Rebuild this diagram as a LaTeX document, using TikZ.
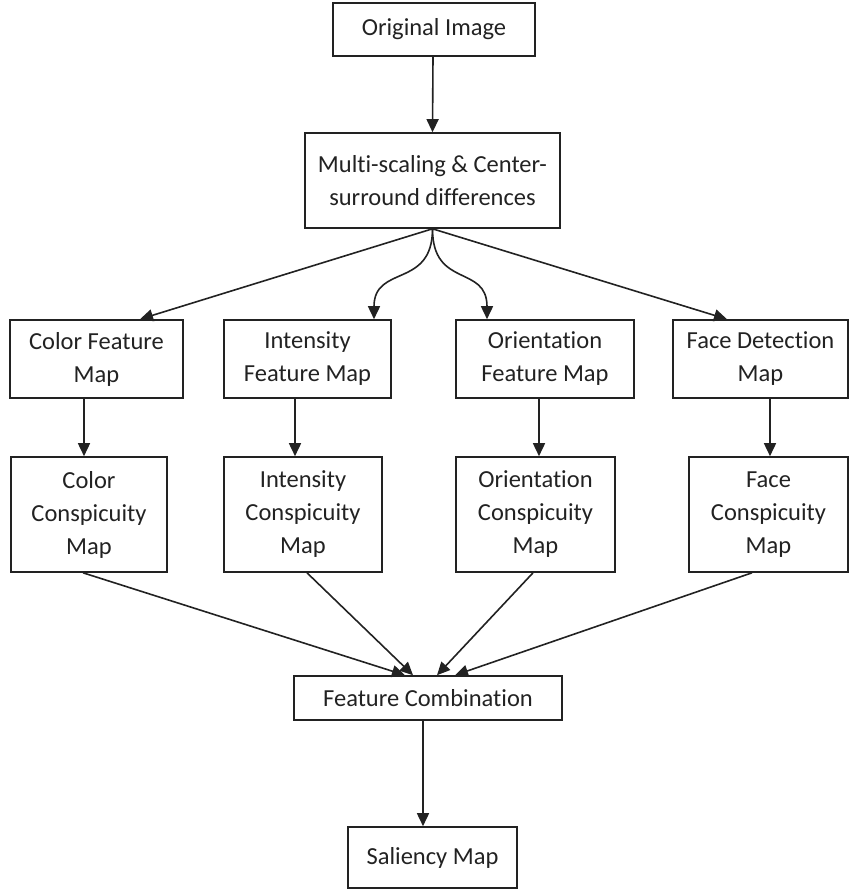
\documentclass[tikz,border=0pt]{standalone}
\usepackage{fontspec}
\setmainfont{Carlito}[RawFeature={-liga;-clig;-dlig;-calt}]
\usetikzlibrary{arrows.meta}
\definecolor{ink}{HTML}{222222}
\tikzset{
  box/.style={draw=ink, line width=1.6pt, text=ink, inner sep=0pt, align=center,
    font=\fontsize{24.5}{33}\selectfont},
  arr/.style={draw=ink, line width=1.6pt, -{Triangle[length=13pt,width=12pt]}},
}
\begin{document}
\begin{tikzpicture}[x=1pt,y=-1pt]
\useasboundingbox (0,0) rectangle (860,891);
\node[box, minimum width=202pt, minimum height=53pt] (orig) at (434,29.5) {Original Image};
\node[box, minimum width=255pt, minimum height=95pt] (ms) at (432.5,180.5) {Multi-scaling \& Center-\\surround differences};
\node[box, minimum width=173pt, minimum height=78pt] (cfm) at (96.5,359) {Color Feature\\Map};
\node[box, minimum width=167pt, minimum height=78pt] (ifm) at (307.5,359) {Intensity\\Feature Map};
\node[box, minimum width=178pt, minimum height=78pt] (ofm) at (545,359) {Orientation\\Feature Map};
\node[box, minimum width=175pt, minimum height=78pt] (ffm) at (760.5,359) {Face Detection\\Map};
\node[box, minimum width=156pt, minimum height=115pt] (ccm) at (89,514.5) {Color\\Conspicuity\\Map};
\node[box, minimum width=158pt, minimum height=115pt] (icm) at (303,514.5) {Intensity\\Conspicuity\\Map};
\node[box, minimum width=159pt, minimum height=115pt] (ocm) at (535.5,514.5) {Orientation\\Conspicuity\\Map};
\node[box, minimum width=159pt, minimum height=115pt] (fcm) at (768.5,514.5) {Face\\Conspicuity\\Map};
\node[box, minimum width=268pt, minimum height=44pt] (fc) at (428,698) {Feature Combination};
\node[box, minimum width=169pt, minimum height=61pt] (sm) at (432.5,857.5) {Saliency Map};

\draw[arr] ([xshift=-1pt]orig.south) -- (ms.north);
\draw[arr] (ms.south) -- ([xshift=43.5pt]cfm.north);
\draw[arr] (ms.south) -- ([xshift=-33.5pt]ffm.north);
\draw[arr] (ms.south) .. controls +(0,60) and +(0,-55) .. ([xshift=66.5pt]ifm.north);
\draw[arr] (ms.south) .. controls +(0,60) and +(0,-55) .. ([xshift=-58pt]ofm.north);

\draw[arr] ([xshift=-12.5pt]cfm.south) -- ([xshift=-5pt]ccm.north);
\draw[arr] ([xshift=-12.5pt]ifm.south) -- ([xshift=-8pt]icm.north);
\draw[arr] ([xshift=-6pt]ofm.south) -- ([xshift=3.5pt]ocm.north);
\draw[arr] ([xshift=9.5pt]ffm.south) -- ([xshift=1.5pt]fcm.north);

\draw[arr] ([xshift=-6pt]ccm.south) -- ([xshift=-23pt]fc.north);
\draw[arr] ([xshift=4pt]icm.south) -- ([xshift=-15pt]fc.north);
\draw[arr] ([xshift=-2.5pt]ocm.south) -- ([xshift=9pt]fc.north);
\draw[arr] ([xshift=-16.5pt]fcm.south) -- ([xshift=27pt]fc.north);

\draw[arr] ([xshift=-5pt]fc.south) -- ([xshift=-9.5pt]sm.north);
\end{tikzpicture}
\end{document}
